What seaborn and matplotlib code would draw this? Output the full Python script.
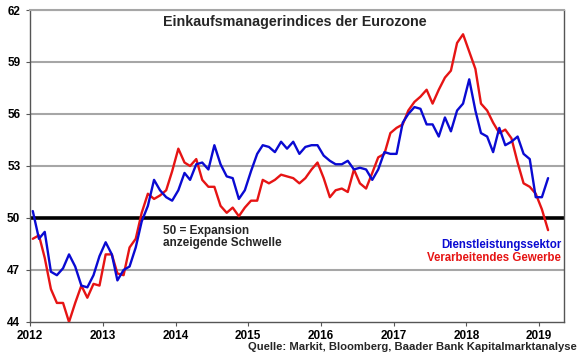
"""
Einkaufsmanagerindices der Eurozone
- monthly PMI, services vs manufacturing, 2012 - Feb 2019
"""

import numpy as np
import pandas as pd
import matplotlib
matplotlib.use("Agg")
import matplotlib.pyplot as plt
import matplotlib.dates as mdates
import seaborn as sns

# ─────────────────────────────────────────────
# Data (Jan 2012 .. Feb 2019)
# ─────────────────────────────────────────────

months = pd.date_range("2012-01-01", "2019-02-01", freq="MS") + pd.Timedelta(days=14)

dienstleistung = [
    50.4, 48.8, 49.2, 46.9, 46.7, 47.1, 47.9, 47.2, 46.1, 46.0, 46.7, 47.8,  # 2012
    48.6, 47.9, 46.4, 47.0, 47.2, 48.3, 49.8, 50.7, 52.2, 51.6, 51.2, 51.0,  # 2013
    51.6, 52.6, 52.2, 53.1, 53.2, 52.8, 54.2, 53.1, 52.4, 52.3, 51.1, 51.6,  # 2014
    52.7, 53.7, 54.2, 54.1, 53.8, 54.4, 54.0, 54.4, 53.7, 54.1, 54.2, 54.2,  # 2015
    53.6, 53.3, 53.1, 53.1, 53.3, 52.8, 52.9, 52.8, 52.2, 52.8, 53.8, 53.7,  # 2016
    53.7, 55.5, 56.0, 56.4, 56.3, 55.4, 55.4, 54.7, 55.8, 55.0, 56.2, 56.6,  # 2017
    58.0, 56.2, 54.9, 54.7, 53.8, 55.2, 54.2, 54.4, 54.7, 53.7, 53.4, 51.2,  # 2018
    51.2, 52.3,                                                              # 2019
]

verarbeitung = [
    48.8, 49.0, 47.7, 45.9, 45.1, 45.1, 44.0, 45.1, 46.1, 45.4, 46.2, 46.1,  # 2012
    47.9, 47.9, 46.8, 46.7, 48.3, 48.8, 50.3, 51.4, 51.1, 51.3, 51.6, 52.7,  # 2013
    54.0, 53.2, 53.0, 53.4, 52.2, 51.8, 51.8, 50.7, 50.3, 50.6, 50.1, 50.6,  # 2014
    51.0, 51.0, 52.2, 52.0, 52.2, 52.5, 52.4, 52.3, 52.0, 52.3, 52.8, 53.2,  # 2015
    52.3, 51.2, 51.6, 51.7, 51.5, 52.8, 52.0, 51.7, 52.6, 53.5, 53.7, 54.9,  # 2016
    55.2, 55.4, 56.2, 56.7, 57.0, 57.4, 56.6, 57.4, 58.1, 58.5, 60.1, 60.6,  # 2017
    59.6, 58.6, 56.6, 56.2, 55.5, 54.9, 55.1, 54.6, 53.2, 52.0, 51.8, 51.4,  # 2018
    50.5, 49.3,                                                              # 2019
]

y_ticks = [44, 47, 50, 53, 56, 59, 62]
x_years = [2012, 2013, 2014, 2015, 2016, 2017, 2018, 2019]

BLUE = "#0a0ad2"
RED = "#e61414"

df = pd.DataFrame({
    "Datum": list(months) * 2,
    "PMI": dienstleistung + verarbeitung,
    "Sektor": ["Dienstleistungssektor"] * len(months) + ["Verarbeitendes Gewerbe"] * len(months),
})

sns.set_theme(style="white")
plt.rcParams["font.family"] = ["Liberation Sans", "DejaVu Sans"]

W, H = 580, 359
fig = plt.figure(figsize=(W / 100, H / 100), dpi=100)
ax = fig.add_axes([30 / W, 1 - 322 / H, 534 / W, 312 / H])

# grid lines first so the series sit on top
for v in y_ticks[1:]:
    if v == 50:
        continue
    ax.axhline(v, color="#a6a6a6", linewidth=1.5, zorder=1)
ax.axhline(50, color="black", linewidth=2.6, zorder=1)

sns.lineplot(data=df, x="Datum", y="PMI", hue="Sektor",
             palette={"Dienstleistungssektor": BLUE, "Verarbeitendes Gewerbe": RED},
             hue_order=["Verarbeitendes Gewerbe", "Dienstleistungssektor"],
             linewidth=1.7, legend=False, ax=ax, zorder=3)

ax.set_ylim(44, 62)
ax.set_xlim(pd.Timestamp("2012-01-01"), pd.Timestamp("2019-05-06"))
ax.set_yticks(y_ticks)
ax.set_xticks([pd.Timestamp(f"{y}-01-01") for y in x_years])
ax.xaxis.set_major_formatter(mdates.DateFormatter("%Y"))
ax.set_xlabel("")
ax.set_ylabel("")
ax.grid(False)

for lab in ax.get_xticklabels() + ax.get_yticklabels():
    lab.set_fontweight("bold")
    lab.set_fontsize(8.5)
    lab.set_color("black")
ax.tick_params(axis="x", direction="out", length=3, width=0.8, color="#555555", pad=3, bottom=True)
ax.tick_params(axis="y", direction="out", length=3, width=0.8, color="#555555", pad=4, left=True)

ax.spines["left"].set_color("#555555")
ax.spines["bottom"].set_color("#555555")
ax.spines["right"].set_color("#555555")
ax.spines["top"].set_color("#a6a6a6")
ax.spines["top"].set_linewidth(1.5)
for s in ["left", "bottom", "right"]:
    ax.spines[s].set_linewidth(1.0)

# texts
fig.text(295 / W, 1 - 22 / H, "Einkaufsmanagerindices der Eurozone",
         ha="center", va="center", fontsize=10.3, fontweight="bold")
fig.text(163 / W, 1 - 237 / H, "50 = Expansion\nanzeigende Schwelle",
         ha="left", va="center", fontsize=8.5, fontweight="bold", linespacing=1.1)
fig.text(561 / W, 1 - 245 / H, "Dienstleistungssektor",
         ha="right", va="center", fontsize=8.3, fontweight="bold", color=BLUE)
fig.text(561 / W, 1 - 258 / H, "Verarbeitendes Gewerbe",
         ha="right", va="center", fontsize=8.3, fontweight="bold", color=RED)
fig.text(577 / W, 1 - 347 / H, "Quelle: Markit, Bloomberg, Baader Bank Kapitalmarktanalyse",
         ha="right", va="center", fontsize=8.1, fontweight="bold")

fig.savefig("out.png", dpi=100, facecolor="white")
plt.close()
